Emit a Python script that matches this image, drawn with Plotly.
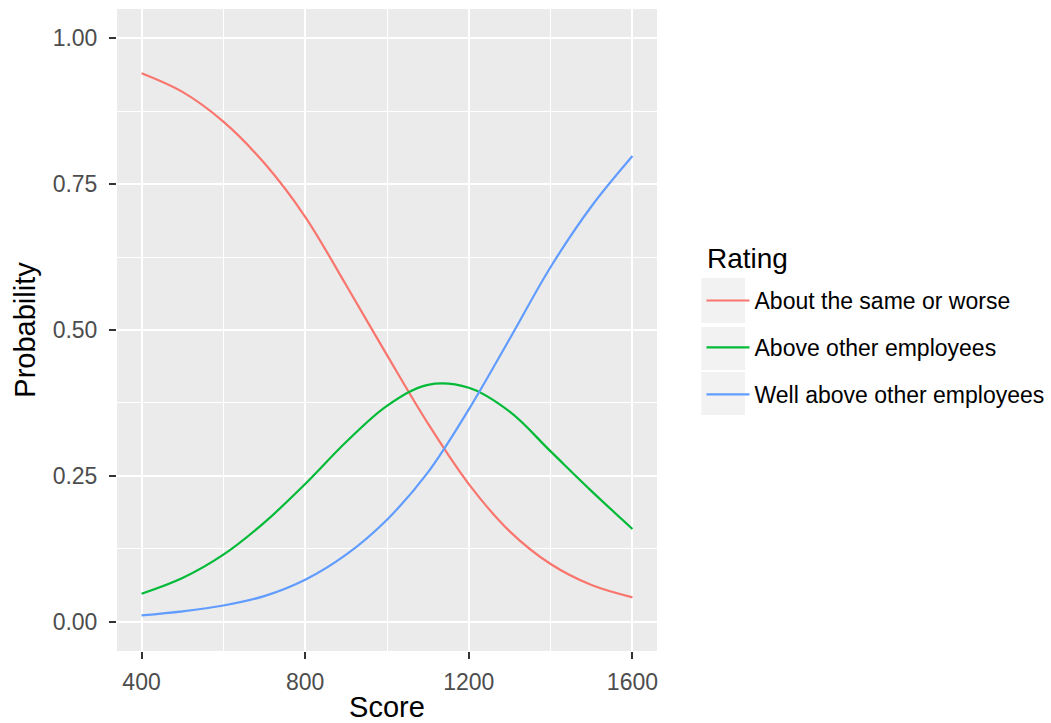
import plotly.graph_objects as go

score = [400, 500, 600, 700, 800, 900, 1000, 1100, 1200, 1300, 1400, 1500, 1600]
p_same_or_worse = [0.940, 0.908, 0.857, 0.786, 0.694, 0.577, 0.457, 0.340, 0.236, 0.155, 0.099, 0.063, 0.042]
p_above = [0.048, 0.075, 0.115, 0.170, 0.236, 0.308, 0.370, 0.406, 0.401, 0.360, 0.292, 0.224, 0.159]
p_well_above = [0.011, 0.018, 0.028, 0.044, 0.072, 0.115, 0.175, 0.256, 0.364, 0.485, 0.608, 0.712, 0.798]

series_names = ["About the same or worse", "Above other employees", "Well above other employees"]
series_values = [p_same_or_worse, p_above, p_well_above]
series_colors = ["#F8766D", "#00BA38", "#619CFF"]

x_ticks = [400, 800, 1200, 1600]
y_ticks = [0.0, 0.25, 0.5, 0.75, 1.0]
y_tick_labels = ["0.00", "0.25", "0.50", "0.75", "1.00"]
legend_title = "Rating"

FONT = "Liberation Sans, Arial, sans-serif"

fig = go.Figure()
for i, (name, vals, col) in enumerate(zip(series_names, series_values, series_colors)):
    fig.add_trace(go.Scatter(
        x=score, y=vals, mode="lines", name=name,
        line=dict(color=col, width=2.2, shape="spline", smoothing=1.0),
        legendgroup=f"g{i}",
    ))

# grey legend key backgrounds (ggplot style)
for y0, y1 in [(0.5109, 0.5810), (0.4377, 0.5047), (0.3676, 0.4346)]:
    fig.add_shape(type="rect", xref="paper", yref="paper",
                  x0=1.0820, x1=1.1630, y0=y0, y1=y1,
                  fillcolor="#F2F2F2", line=dict(width=0), layer="below")

fig.add_annotation(
    text=legend_title, xref="paper", yref="paper",
    x=1.0889, y=0.6121, xanchor="left", yanchor="middle",
    showarrow=False, font=dict(size=28, color="#000000", family=FONT),
)

fig.update_layout(
    width=1051, height=723,
    margin=dict(l=117, r=394, t=9, b=72, autoexpand=False),
    paper_bgcolor="white",
    plot_bgcolor="#EBEBEB",
    font=dict(family=FONT, color="#000000"),
    showlegend=True,
    legend=dict(
        x=1.0824, xanchor="left", y=0.5794, yanchor="top",
        font=dict(size=23, color="#000000"),
        bgcolor="rgba(0,0,0,0)",
        tracegroupgap=14,
        traceorder="grouped",
        itemwidth=43,
        itemclick=False,
    ),
    xaxis=dict(
        range=[340, 1660],
        tickmode="array", tickvals=x_ticks, ticktext=[str(v) for v in x_ticks],
        showgrid=True, gridcolor="white", gridwidth=2,
        minor=dict(dtick=200, tick0=400, showgrid=True, gridcolor="white", gridwidth=1, ticks=""),
        ticks="outside", ticklen=7, tickwidth=2, tickcolor="#333333",
        ticklabelstandoff=3,
        tickfont=dict(size=23, color="#4D4D4D"),
        zeroline=False, showline=False,
        title=dict(text="Score", font=dict(size=29, color="#000000"), standoff=8),
    ),
    yaxis=dict(
        range=[-0.05, 1.05],
        tickmode="array", tickvals=y_ticks, ticktext=y_tick_labels,
        showgrid=True, gridcolor="white", gridwidth=2,
        minor=dict(dtick=0.125, tick0=0, showgrid=True, gridcolor="white", gridwidth=1, ticks=""),
        ticks="outside", ticklen=7, tickwidth=2, tickcolor="#333333",
        ticklabelstandoff=7,
        tickfont=dict(size=23, color="#4D4D4D"),
        zeroline=False, showline=False,
        title=dict(text="Probability", font=dict(size=29, color="#000000"), standoff=8),
    ),
)

fig.write_html("out.html", config={"displayModeBar": False},
               post_script="document.body.style.margin='0px';")
